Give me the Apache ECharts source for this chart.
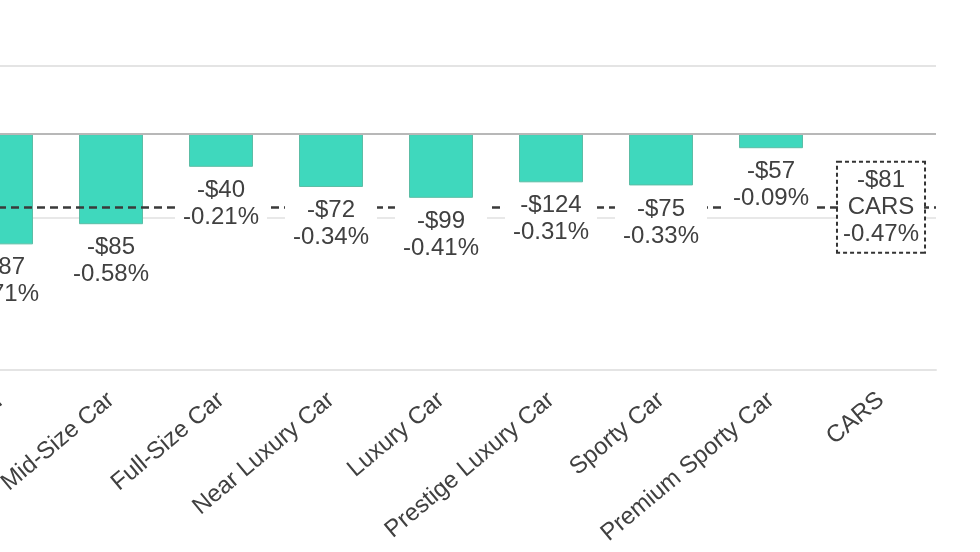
<!DOCTYPE html>
<html>
<head>
<meta charset="utf-8">
<script src="https://cdn.jsdelivr.net/npm/echarts@6/dist/echarts.min.js"></script>
<style>html,body{margin:0;padding:0;background:#fff;}#c{width:980px;height:552px;}</style>
</head>
<body>
<div id="c"></div>
<script>
var categories = ['Compact Car', 'Mid-Size Car', 'Full-Size Car', 'Near Luxury Car', 'Luxury Car', 'Prestige Luxury Car', 'Sporty Car', 'Premium Sporty Car', 'CARS'];
var dollarValues = [-87, -85, -40, -72, -99, -124, -75, -57, -81];
var pctValues = [-0.71, -0.58, -0.21, -0.34, -0.41, -0.31, -0.33, -0.09, -0.47];
var totalIndex = 8;
var averagePct = -0.47;
var yMin = -1.52, yMax = 0.44;

var FONT = 'Liberation Sans, Arial, sans-serif';
function money(v) { return (v < 0 ? '-$' : '$') + Math.abs(v); }
function pct(v) { return v.toFixed(2) + '%'; }

var barData = pctValues.map(function (v, i) { return i === totalIndex ? null : v; });
var totalData = pctValues.map(function (v, i) { return i === totalIndex ? v : null; });
var emptyData = categories.map(function () { return null; });

var chart = echarts.init(document.getElementById('c'), null, { renderer: 'canvas' });
chart.setOption({
  animation: false,
  backgroundColor: '#fff',
  grid: { left: -54, width: 990, top: 66, height: 304, containLabel: false, outerBoundsMode: 'none' },
  xAxis: {
    type: 'category',
    data: categories,
    axisLine: { onZero: false, lineStyle: { color: '#e4e4e4', width: 2 } },
    axisTick: { show: false },
    axisLabel: { interval: 0, rotate: 40, margin: 27, fontSize: 24, color: '#404040', fontFamily: FONT }
  },
  yAxis: {
    type: 'value', min: yMin, max: yMax, show: false,
    splitLine: { show: false }
  },
  series: [
    {
      type: 'line', z: 1, data: emptyData, symbol: 'none',
      markLine: {
        z: 1, silent: true, symbol: 'none', label: { show: false }, animation: false,
        data: [
          { yAxis: yMax, lineStyle: { color: '#e4e4e4', width: 2, type: 'solid' } },
          { yAxis: -0.535, lineStyle: { color: '#e8e8e8', width: 2, type: 'solid' } }
        ]
      }
    },
    {
      type: 'bar', z: 2, data: barData, barWidth: 64,
      itemStyle: { color: '#3fd8bd', borderColor: '#5cbda5', borderWidth: 1 }
    },
    {
      type: 'line', z: 3, data: emptyData, symbol: 'none',
      markLine: {
        z: 3, silent: true, symbol: 'none', label: { show: false }, animation: false,
        data: [
          { yAxis: 0, lineStyle: { color: '#b8b8b8', width: 2, type: 'solid' } },
          { yAxis: averagePct, lineStyle: { color: '#3a3a3a', width: 2.5, type: [8, 5] } }
        ]
      }
    },
    {
      type: 'bar', z: 5, data: barData, barWidth: 64, barGap: '-100%',
      itemStyle: { color: 'rgba(0,0,0,0)' },
      label: {
        show: true, position: 'bottom', distance: 8,
        backgroundColor: '#fff', padding: [2, 8],
        fontSize: 24, lineHeight: 27, color: '#404040', fontFamily: FONT, align: 'center',
        formatter: function (p) { return money(dollarValues[p.dataIndex]) + '\n' + pct(pctValues[p.dataIndex]); }
      }
    },
    {
      type: 'scatter', z: 6, data: totalData, symbolSize: 0,
      itemStyle: { color: '#fff', opacity: 1 },
      label: {
        show: true, position: 'inside', opacity: 1,
        backgroundColor: '#fff', borderColor: '#333', borderWidth: 2, borderType: [4, 3],
        padding: [4, 5], fontSize: 24, lineHeight: 27, color: '#404040', fontFamily: FONT, align: 'center',
        formatter: function (p) { return money(dollarValues[p.dataIndex]) + '\n' + categories[p.dataIndex] + '\n' + pct(pctValues[p.dataIndex]); }
      }
    }
  ]
});
</script>
</body>
</html>
